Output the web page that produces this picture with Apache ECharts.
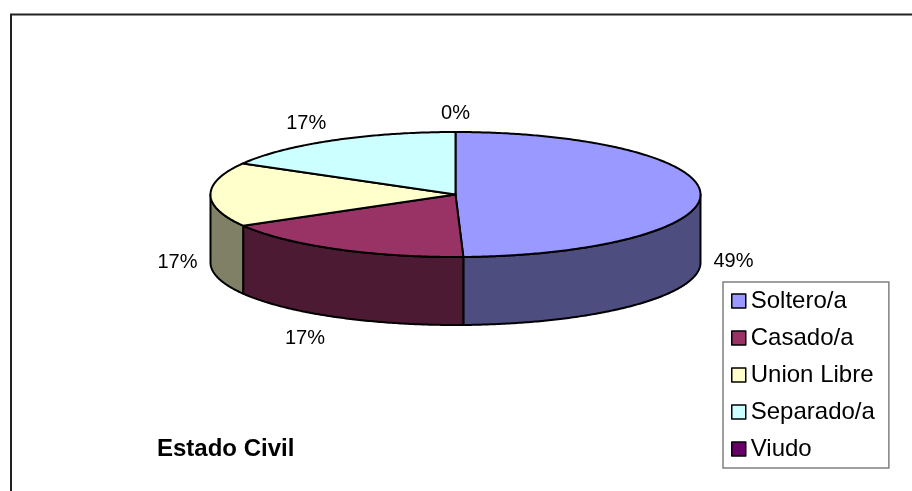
<!DOCTYPE html>
<html>
<head>
<meta charset="utf-8">
<script src="https://cdn.jsdelivr.net/npm/echarts@6/dist/echarts.min.js"></script>
<style>
html,body{margin:0;padding:0;background:#fff;}
#chart{width:912px;height:491px;}
</style>
</head>
<body>
<div id="chart"></div>
<script>
// ---- data ----
const categories = ['Soltero/a', 'Casado/a', 'Union Libre', 'Separado/a', 'Viudo'];
const values = [49.49, 17.2, 16.6, 16.71, 0];
const topColors = ['#9999FF', '#993366', '#FFFFCC', '#CCFFFF', '#660066'];
const sideColors = ['#4D4D80', '#4D1A33', '#808066', '#668080', '#330033'];
const titleText = 'Estado Civil';

// ---- layout ----
const CX = 455.5, CY = 194.5, RX = 245, RY = 62.5, DEPTH = 68;
const FONT = 'Liberation Sans';

const total = values.reduce((a, b) => a + b, 0);
const cum = [];
values.reduce((acc, v, i) => { cum[i] = acc; return acc + v; }, 0);

function pt(t, dy) {
  return [CX + RX * Math.sin(t), CY - RY * Math.cos(t) + dy];
}
function arc(a0, a1, dy) {
  const n = Math.max(2, Math.ceil(Math.abs(a1 - a0) / 0.01));
  const out = [];
  for (let k = 0; k <= n; k++) out.push(pt(a0 + (a1 - a0) * k / n, dy));
  return out;
}

function renderItem(params, api) {
  const i = params.dataIndex;
  const v = api.value(0);
  const start = cum[i] / total * Math.PI * 2;
  const end = start + v / total * Math.PI * 2;
  const children = [];
  const line = { stroke: '#000', lineWidth: 2, lineJoin: 'round' };
  // side (front half only)
  const s0 = Math.max(start, Math.PI / 2), s1 = Math.min(end, Math.PI * 1.5);
  if (v > 0 && s1 > s0) {
    const pts = arc(s0, s1, 0).concat(arc(s1, s0, DEPTH));
    children.push({ type: 'polygon', shape: { points: pts }, style: Object.assign({ fill: sideColors[i] }, line) });
  }
  // top face
  if (v > 0) {
    const pts = [[CX, CY]].concat(arc(start, end, 0));
    children.push({ type: 'polygon', shape: { points: pts }, style: Object.assign({ fill: topColors[i] }, line) });
  }
  // percentage label
  const m = (start + end) / 2;
  const s = Math.sin(m), c = Math.cos(m);
  const front = c < 0.3;
  const rimX = CX + RX * s;
  const rimY = (front ? CY + DEPTH : CY) - RY * c;
  const d = 13;
  const ax = rimX + d * s - (c < -0.15 ? 5 : 0);
  const ay = rimY - d * c + (c > 0.15 ? 4 : 0);
  children.push({
    type: 'text',
    x: ax, y: ay,
    style: {
      text: Math.round(v / total * 100) + '%',
      fontSize: 20, fontFamily: FONT, fill: '#000',
      align: s < -0.15 ? 'right' : (s > 0.15 ? 'left' : 'center'),
      verticalAlign: c > 0.15 ? 'bottom' : (c < -0.15 ? 'top' : 'middle')
    }
  });
  return { type: 'group', children: children };
}

const chart = echarts.init(document.getElementById('chart'), null, { renderer: 'canvas' });
chart.setOption({
  backgroundColor: '#fff',
  animation: false,
  color: topColors,
  title: {
    text: titleText, left: 157, top: 437, padding: 0,
    textStyle: { fontSize: 24, fontWeight: 'bold', fontFamily: FONT, color: '#000' }
  },
  legend: {
    orient: 'vertical', left: 723, top: 282,
    padding: [7, 14, 7, 8], itemGap: 13,
    itemWidth: 14, itemHeight: 14, icon: 'rect',
    borderColor: '#808080', borderWidth: 1.5,
    data: categories,
    itemStyle: { borderColor: '#000', borderWidth: 1.5 },
    textStyle: { fontSize: 24, fontFamily: FONT, color: '#000' }
  },
  graphic: [{
    type: 'rect', z: 100, silent: true,
    shape: { x: 11, y: 14.5, width: 1000, height: 1000 },
    style: { fill: null, stroke: '#222', lineWidth: 2 }
  }],
  series: [
    {
      type: 'custom', coordinateSystem: 'none', silent: true,
      data: values.map(v => [v]),
      renderItem: renderItem
    },
    {
      // invisible pie only to feed legend items
      type: 'pie', radius: [0, 0], center: [CX, CY], silent: true,
      label: { show: false }, labelLine: { show: false },
      data: categories.map((n, i) => ({ name: n, value: values[i], itemStyle: { color: topColors[i] } }))
    }
  ]
});
</script>
</body>
</html>
